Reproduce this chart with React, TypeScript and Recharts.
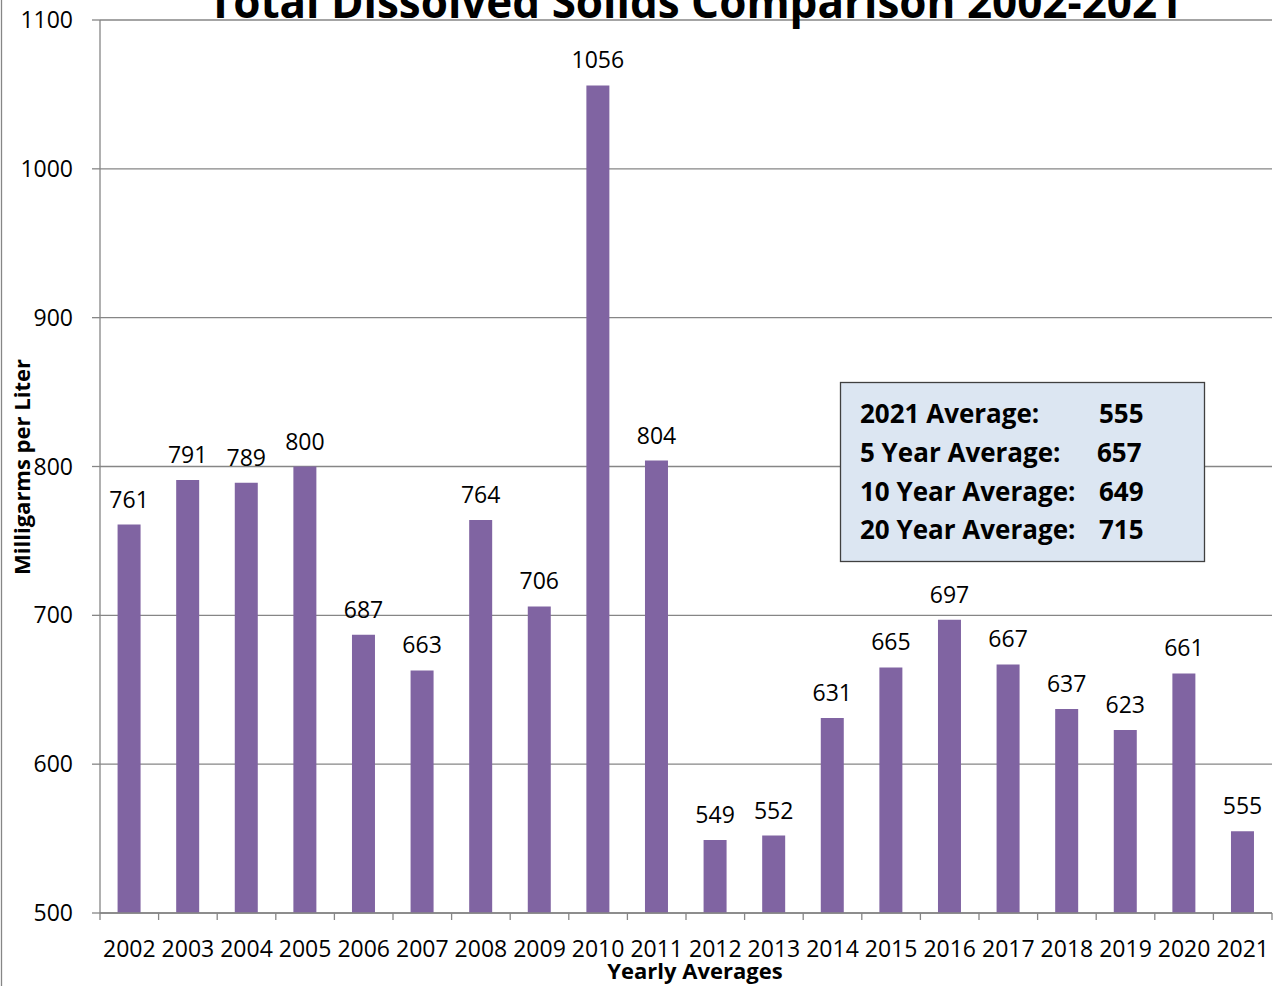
import React from "react";
import { BarChart, Bar, XAxis, YAxis, CartesianGrid, LabelList } from "recharts";

const years = [
  "2002", "2003", "2004", "2005", "2006", "2007", "2008", "2009", "2010", "2011",
  "2012", "2013", "2014", "2015", "2016", "2017", "2018", "2019", "2020", "2021",
];
const tds = [761, 791, 789, 800, 687, 663, 764, 706, 1056, 804, 549, 552, 631, 665, 697, 667, 637, 623, 661, 555];
const yTicks = [500, 600, 700, 800, 900, 1000, 1100];
const summaryLabels = ["2021 Average:", "5 Year Average:", "10 Year Average:", "20 Year Average:"];
const summaryValues = ["555", "657", "649", "715"];

const FONT = '"Open Sans", sans-serif';
const GRID = "#868686";

const chartData = years.map((year, i) => ({ year, value: tds[i] }));

// category ticks sit on the band edges, labels in the middle
function YearTick(props: any) {
  const { x, y, payload, index, visibleTicksCount, width } = props;
  const count = visibleTicksCount || years.length;
  const half = (width || 1172) / count / 2;
  return (
    <g>
      <line x1={x - half} x2={x - half} y1={y} y2={y + 7} stroke={GRID} strokeWidth={1.3} />
      {index === count - 1 && (
        <line x1={x + half} x2={x + half} y1={y} y2={y + 7} stroke={GRID} strokeWidth={1.3} />
      )}
      <text x={x} y={y + 44} textAnchor="middle" fontSize={23} fill="#000" fontFamily={FONT}>
        {payload.value}
      </text>
    </g>
  );
}

export default function App() {
  return (
    <div style={{ position: "absolute", left: 0, top: 0, width: 1279, height: 986, fontFamily: FONT, background: "#fff" }}>
      <BarChart
        width={1279}
        height={986}
        data={chartData}
        margin={{ top: 20, right: 7, bottom: 0, left: 0 }}
        barCategoryGap="30%"
      >
        <CartesianGrid vertical={false} stroke={GRID} strokeWidth={1.3} />
        <XAxis
          dataKey="year"
          height={73}
          interval={0}
          tickSize={0}
          tickMargin={0}
          tickLine={false}
          axisLine={{ stroke: GRID, strokeWidth: 1.3 }}
          tick={<YearTick />}
        />
        <YAxis
          width={100}
          domain={[500, 1100]}
          ticks={yTicks}
          interval={0}
          tickSize={8}
          tickMargin={19}
          axisLine={{ stroke: GRID, strokeWidth: 1.3 }}
          tickLine={{ stroke: GRID, strokeWidth: 1.3 }}
          tick={{ fill: "#000", fontSize: 23, fontFamily: FONT }}
        />
        <Bar dataKey="value" fill="#8064a2" isAnimationActive={false}>
          <LabelList dataKey="value" position="top" offset={17} fill="#000" fontSize={23} fontFamily={FONT} />
        </Bar>
      </BarChart>
      <svg
        width={1279}
        height={986}
        style={{ position: "absolute", left: 0, top: 0, pointerEvents: "none" }}
        fontFamily={FONT}
      >
        <line x1={1.5} x2={1.5} y1={0} y2={986} stroke={GRID} strokeWidth={1.3} />
        <text x={695} y={18} textAnchor="middle" fontSize={44} fontWeight="bold" fill="#000">
          Total Dissolved Solids Comparison 2002-2021
        </text>
        <text
          x={0}
          y={0}
          transform="translate(30 467) rotate(-90)"
          textAnchor="middle"
          fontSize={22}
          fontWeight="bold"
          fill="#000"
        >
          Milligarms per Liter
        </text>
        <text x={695} y={979} textAnchor="middle" fontSize={22} fontWeight="bold" fill="#000">
          Yearly Averages
        </text>
        <rect x={840.5} y={382.5} width={364} height={179} fill="#dce6f2" stroke="#404040" strokeWidth={1.3} />
        {summaryLabels.map((label, i) => (
          <g key={label}>
            <text x={860} y={423 + i * 38.8} fontSize={26} fontWeight="bold" fill="#000">
              {label}
            </text>
            <text x={i === 1 ? 1097 : 1099} y={423 + i * 38.8} fontSize={26} fontWeight="bold" fill="#000">
              {summaryValues[i]}
            </text>
          </g>
        ))}
      </svg>
    </div>
  );
}
